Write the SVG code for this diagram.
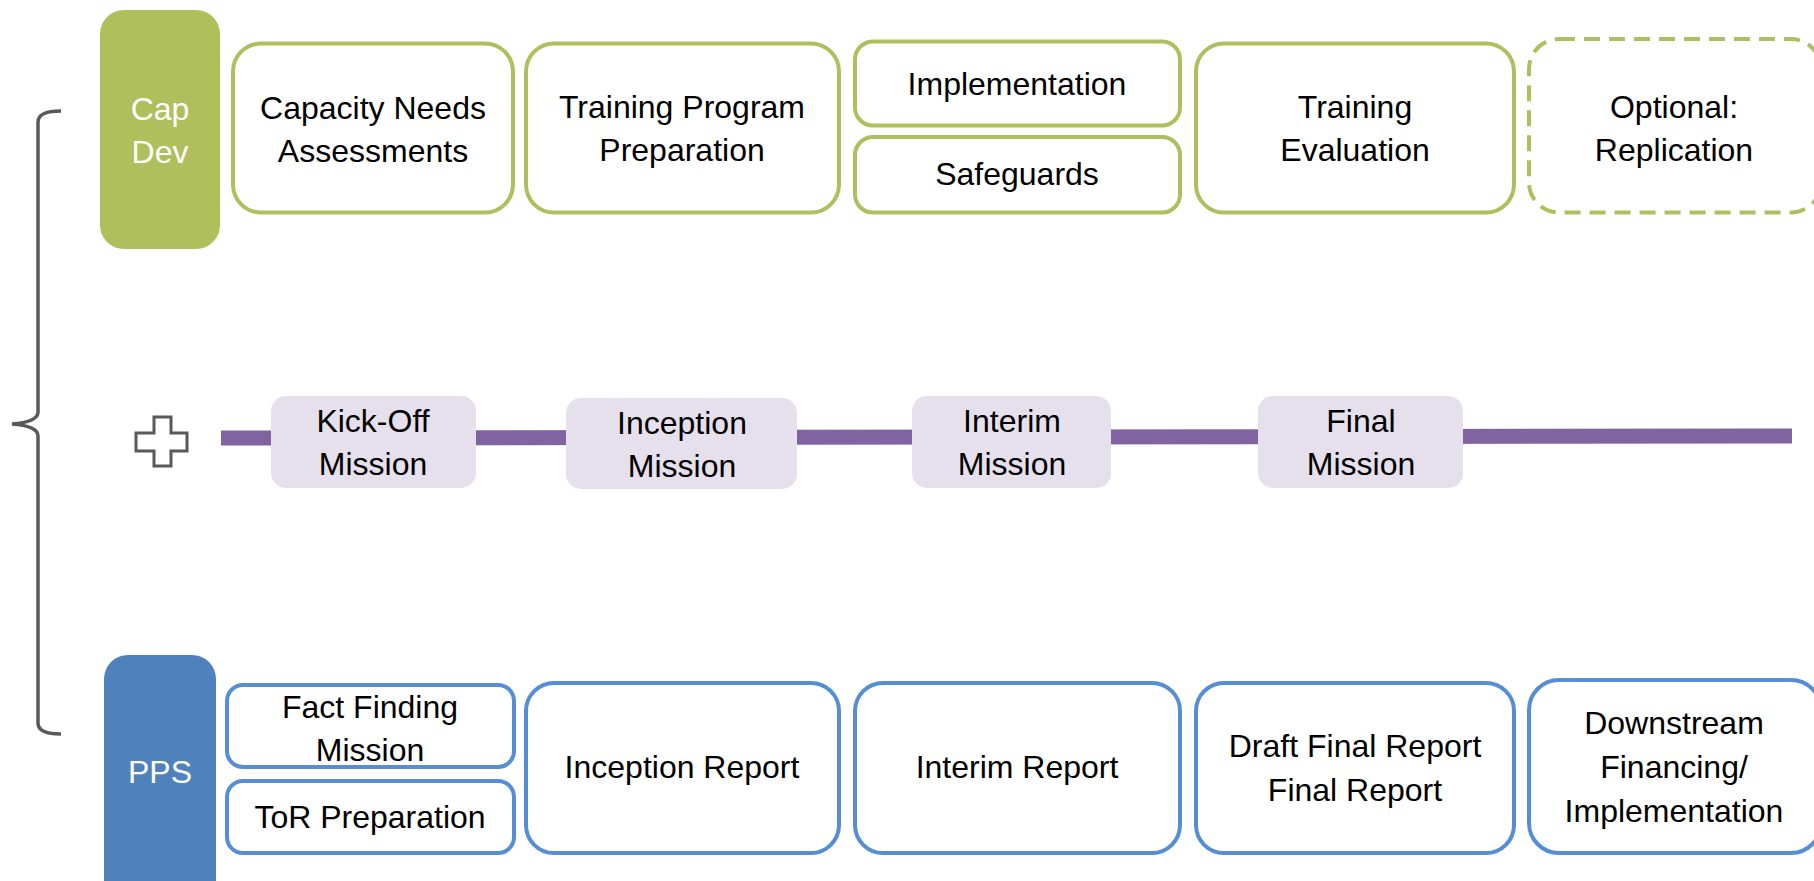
<svg xmlns="http://www.w3.org/2000/svg" width="1814" height="881" viewBox="0 0 1814 881">
<style>
  text { font-family: "Liberation Sans", Arial, sans-serif; font-size: 32px; fill: #000; text-anchor: middle; }
  .hdr text { fill: #fff; }
  .g { fill: #fff; stroke: #AEBF5E; stroke-width: 4; }
  .gd { fill: #fff; stroke: #AEBF5E; stroke-width: 4; stroke-dasharray: 16 9; }
  .b { fill: #fff; stroke: #558ED5; stroke-width: 4; }
  .m { fill: #E5E0EC; stroke: none; }
</style>
<rect width="1814" height="881" fill="#fff"/>

<g id="connectors">
  <path id="brace" d="M61,111 Q38,111 38,122 L38,412 Q38,422 12,424 Q38,426 38,436 L38,723 Q38,734 61,734" fill="none" stroke="#595959" stroke-width="3.5"/>
  <line id="timeline" x1="221" y1="438" x2="1792" y2="436" stroke="#8064A2" stroke-width="15"/>
</g>

<g id="capdev" class="hdr">
  <rect x="100" y="10" width="120" height="239" rx="24" fill="#AEBF5C"/>
  <text x="160" y="120">Cap</text>
  <text x="160" y="163">Dev</text>
</g>
<g id="capacity-needs">
  <rect class="g" x="233" y="43.5" width="280" height="169" rx="28"/>
  <text x="373" y="119">Capacity Needs</text>
  <text x="373" y="162">Assessments</text>
</g>
<g id="training-prep">
  <rect class="g" x="526" y="43.5" width="313" height="169" rx="28"/>
  <text x="682" y="118">Training Program</text>
  <text x="682" y="161">Preparation</text>
</g>
<g id="implementation">
  <rect class="g" x="855" y="41.5" width="325" height="84" rx="18"/>
  <text x="1017" y="95">Implementation</text>
</g>
<g id="safeguards">
  <rect class="g" x="855" y="137" width="325" height="75.5" rx="18"/>
  <text x="1017" y="185">Safeguards</text>
</g>
<g id="training-eval">
  <rect class="g" x="1196" y="43.5" width="318" height="169" rx="28"/>
  <text x="1355" y="118">Training</text>
  <text x="1355" y="161">Evaluation</text>
</g>
<g id="replication">
  <rect class="gd" x="1529" y="39" width="292" height="173.5" rx="30"/>
  <text x="1674" y="118">Optional:</text>
  <text x="1674" y="161">Replication</text>
</g>

<g id="plus">
  <path d="M154,417 H171 V433 H187 V451 H171 V466 H154 V451 H136 V433 H154 Z" fill="#fff" stroke="#595959" stroke-width="3"/>
</g>
<g id="kickoff">
  <rect class="m" x="271" y="396" width="205" height="92" rx="15"/>
  <text x="373" y="432">Kick-Off</text>
  <text x="373" y="475">Mission</text>
</g>
<g id="inception-mission">
  <rect class="m" x="566" y="398" width="231" height="91" rx="15"/>
  <text x="682" y="434">Inception</text>
  <text x="682" y="477">Mission</text>
</g>
<g id="interim-mission">
  <rect class="m" x="912" y="396" width="199" height="92" rx="15"/>
  <text x="1012" y="432">Interim</text>
  <text x="1012" y="475">Mission</text>
</g>
<g id="final-mission">
  <rect class="m" x="1258" y="396" width="205" height="92" rx="15"/>
  <text x="1361" y="432">Final</text>
  <text x="1361" y="475">Mission</text>
</g>

<g id="pps" class="hdr">
  <rect x="104" y="655" width="112" height="250" rx="24" fill="#4F81BD"/>
  <text x="160" y="783">PPS</text>
</g>
<g id="fact-finding">
  <rect class="b" x="227" y="685" width="287" height="82" rx="16"/>
  <text x="370" y="718">Fact Finding</text>
  <text x="370" y="761">Mission</text>
</g>
<g id="tor">
  <rect class="b" x="227" y="781" width="287" height="72" rx="16"/>
  <text x="370" y="828">ToR Preparation</text>
</g>
<g id="inception-report">
  <rect class="b" x="526" y="683" width="313" height="170" rx="28"/>
  <text x="682" y="778">Inception Report</text>
</g>
<g id="interim-report">
  <rect class="b" x="855" y="683" width="325" height="170" rx="28"/>
  <text x="1017" y="778">Interim Report</text>
</g>
<g id="final-report">
  <rect class="b" x="1196" y="683" width="318" height="170" rx="28"/>
  <text x="1355" y="757">Draft Final Report</text>
  <text x="1355" y="801">Final Report</text>
</g>
<g id="downstream">
  <rect class="b" x="1529" y="680" width="292" height="173" rx="30"/>
  <text x="1674" y="734">Downstream</text>
  <text x="1674" y="778">Financing/</text>
  <text x="1674" y="822">Implementation</text>
</g>
</svg>
